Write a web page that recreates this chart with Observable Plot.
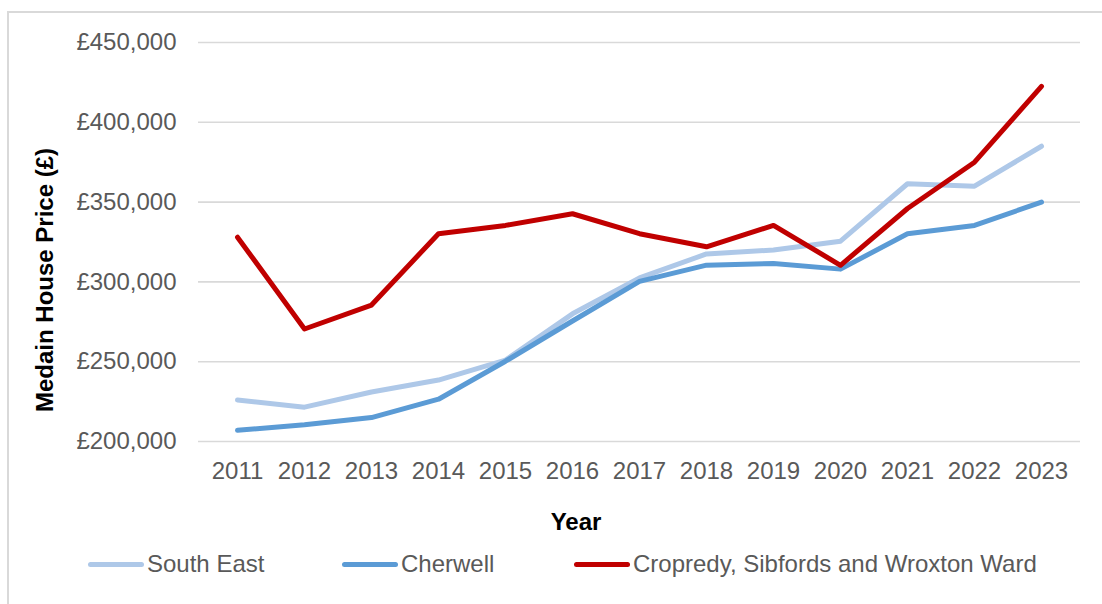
<!DOCTYPE html>
<html>
<head>
<meta charset="utf-8">
<script src="https://cdn.jsdelivr.net/npm/d3@7"></script>
<script src="https://cdn.jsdelivr.net/npm/@observablehq/plot@0.6"></script>
<style>
  html, body { margin: 0; padding: 0; background: #fff; }
  #wrap { position: relative; width: 1102px; height: 604px; overflow: hidden; font-family: "Liberation Sans", Arial, sans-serif; }
  #frame { position: absolute; left: 7px; top: 11px; width: 1200px; height: 700px; border: 2px solid #d9d9d9; box-sizing: border-box; }
  #chart { position: absolute; left: 0; top: 0; }
  #ytitle { position: absolute; left: 45px; top: 280px; transform: translate(-50%, -50%) rotate(-90deg); font-weight: bold; font-size: 24px; color: #000; white-space: nowrap; }
  #xtitle { position: absolute; left: 576px; top: 522px; transform: translate(-50%, -50%); font-weight: bold; font-size: 24px; color: #000; white-space: nowrap; }
  #legend { position: absolute; top: 564px; left: 0; width: 1102px; height: 0; }
  .item { position: absolute; top: 0; transform: translateY(-50%); display: flex; align-items: center; font-size: 24px; color: #595959; white-space: nowrap; }
  .sw { width: 56px; height: 5px; border-radius: 3px; margin-right: 3px; }
</style>
</head>
<body>
<div id="wrap">
  <div id="frame"></div>
  <div id="chart"></div>
  <div id="ytitle">Medain House Price (£)</div>
  <div id="xtitle">Year</div>
  <div id="legend"></div>
</div>
<script>
const years = ["2011","2012","2013","2014","2015","2016","2017","2018","2019","2020","2021","2022","2023"];
const southEast = [226000, 221500, 231000, 238500, 251000, 280000, 302500, 317500, 320000, 325500, 361500, 360000, 385000];
const cherwell  = [207000, 210500, 215000, 226500, 250300, 275500, 300300, 310500, 311500, 308000, 330200, 335400, 350000];
const cropredy  = [328000, 270500, 285500, 330200, 335400, 342700, 330200, 322000, 335400, 310400, 346000, 375000, 422500];
const seriesNames = ["South East", "Cherwell", "Cropredy, Sibfords and Wroxton Ward"];
const seriesColors = ["#aec8e8", "#5b9bd5", "#c00000"];
const yTicks = [200000, 250000, 300000, 350000, 400000, 450000];

const seriesValues = [southEast, cherwell, cropredy];
const data = [];
seriesNames.forEach((name, i) => {
  years.forEach((y, j) => data.push({series: name, year: y, value: seriesValues[i][j]}));
});

const fmt = d3.format(",");
const chart = Plot.plot({
  width: 1102,
  height: 545,
  marginLeft: 198,
  marginRight: 22,
  marginTop: 42,
  marginBottom: 104,
  style: { fontFamily: "Liberation Sans, Arial, sans-serif", fontSize: "24px", background: "transparent" },
  x: { type: "point", domain: years, padding: 0.5, label: null },
  y: { domain: [200000, 450000], label: null },
  color: { domain: seriesNames, range: seriesColors },
  marks: [
    Plot.gridY(yTicks, { stroke: "#d9d9d9", strokeOpacity: 1, strokeWidth: 1.6 }),
    Plot.axisY(yTicks, { tickSize: 0, tickPadding: 22, tickFormat: d => "£" + fmt(d), fill: "#595959", fontSize: 24, label: null }),
    Plot.axisX({ tickSize: 0, tickPadding: 20, fill: "#595959", fontSize: 24, label: null }),
    Plot.line(data, { x: "year", y: "value", z: "series", stroke: "series", strokeWidth: 5, strokeLinecap: "round", strokeLinejoin: "round" })
  ]
});
document.getElementById("chart").appendChild(chart);

const legendPos = [88, 342, 574];
const legend = document.getElementById("legend");
seriesNames.forEach((name, i) => {
  const item = document.createElement("div");
  item.className = "item";
  item.style.left = legendPos[i] + "px";
  const sw = document.createElement("span");
  sw.className = "sw";
  sw.style.background = seriesColors[i];
  const t = document.createElement("span");
  t.textContent = name;
  item.appendChild(sw);
  item.appendChild(t);
  legend.appendChild(item);
});
</script>
</body>
</html>
